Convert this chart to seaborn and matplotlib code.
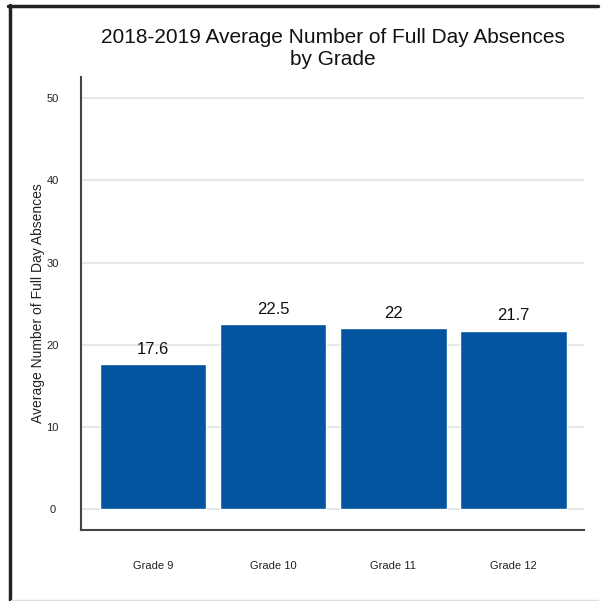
import matplotlib
matplotlib.use("Agg")
import matplotlib.pyplot as plt
import seaborn as sns
import pandas as pd
from matplotlib.lines import Line2D

grades = ["Grade 9", "Grade 10", "Grade 11", "Grade 12"]
absences = [17.6, 22.5, 22, 21.7]
value_labels = ["17.6", "22.5", "22", "21.7"]
y_ticks = [0, 10, 20, 30, 40, 50]

df = pd.DataFrame({"grade": grades, "absences": absences})

sns.set_theme(style="white")
plt.rcParams["font.family"] = ["Liberation Sans", "DejaVu Sans"]

fig = plt.figure(figsize=(6.07, 6.01), dpi=100)
ax = fig.add_axes([81 / 607, 1 - 530 / 601, (584 - 81) / 607, (530 - 77) / 601])

sns.barplot(data=df, x="grade", y="absences", color="#02559E", saturation=1,
            width=0.89, ax=ax, zorder=3)

ax.set_xlim(-0.6, 3.59)
ax.set_ylim(-2.55, 52.6)
ax.set_yticks(y_ticks)
ax.set_yticklabels([str(t) for t in y_ticks], fontsize=8, color="#222222")
ax.tick_params(axis="y", length=0, pad=20.5)
ax.tick_params(axis="x", length=0, pad=22, labelsize=8, labelcolor="#222222")
for lbl in ax.get_yticklabels():
    lbl.set_horizontalalignment("center")
ax.yaxis.grid(True, color="#e6e6e6", linewidth=1.5, zorder=0)
ax.set_axisbelow(True)

for side in ["top", "right"]:
    ax.spines[side].set_visible(False)
for side in ["left", "bottom"]:
    ax.spines[side].set_color("#444444")
    ax.spines[side].set_linewidth(1.5)

ax.set_xlabel("")
ax.set_ylabel("Average Number of Full Day Absences", fontsize=10, color="#222222",
              labelpad=1)

for i, (v, t) in enumerate(zip(absences, value_labels)):
    ax.annotate(t, (i, v), xytext=(0, 5.5), textcoords="offset points",
                ha="center", va="bottom", fontsize=12, color="#111111")

fig.text(333 / 607, 1 - 48.5 / 601,
         "2018-2019 Average Number of Full Day Absences\nby Grade",
         ha="center", va="center", fontsize=15, color="#111111", linespacing=1.25)

# page frame
fig.add_artist(Line2D([9.5 / 607, 9.5 / 607], [0, 1 - 5 / 601], transform=fig.transFigure,
                      color="#222222", linewidth=2.5))
fig.add_artist(Line2D([8 / 607, 598 / 607], [1 - 5.5 / 601, 1 - 5.5 / 601],
                      transform=fig.transFigure, color="#222222", linewidth=2.5))
fig.add_artist(Line2D([11 / 607, 598 / 607], [1 - 599.5 / 601, 1 - 599.5 / 601],
                      transform=fig.transFigure, color="#dddddd", linewidth=1))

fig.savefig("out.png", dpi=100, facecolor="white")
